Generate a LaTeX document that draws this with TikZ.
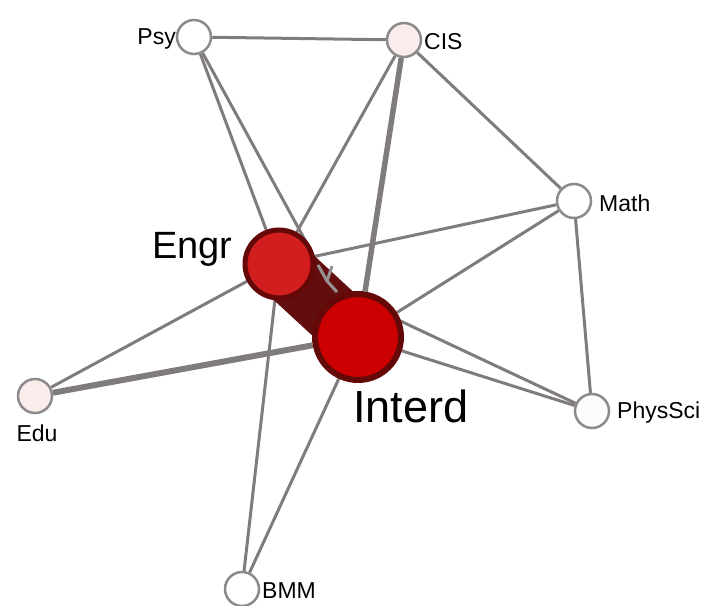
\documentclass[tikz,border=0pt]{standalone}
\usepackage{fontspec}
\setmainfont{Liberation Sans}
\usetikzlibrary{backgrounds}
\definecolor{edgegray}{RGB}{128,124,124}
\definecolor{rimgray}{RGB}{140,138,138}
\definecolor{paleblush}{RGB}{251,236,236}
\definecolor{offwhite}{RGB}{253,251,251}
\definecolor{engrred}{RGB}{210,30,30}
\definecolor{interdred}{RGB}{204,0,0}
\definecolor{darkrim}{RGB}{100,8,8}
\definecolor{bandred}{RGB}{98,14,14}
\definecolor{tipgray}{RGB}{150,146,146}
\begin{document}
\begin{tikzpicture}[x=1pt,y=-1pt,
  small/.style={circle,draw=rimgray,line width=2.5pt,minimum size=34pt,inner sep=0pt},
  big/.style={circle,draw=darkrim,inner sep=0pt},
  edge/.style={draw=edgegray,line width=3pt},
  heavy/.style={draw=edgegray,line width=5.5pt},
  tag/.style={inner sep=0pt,font=\fontsize{23}{27}\selectfont}]
\useasboundingbox (0,0) rectangle (704,605);
% nodes
\node[small,fill=white] (psy) at (194,37) {};
\node[small,fill=paleblush] (cis) at (404,40) {};
\node[small,fill=white] (math) at (574,201) {};
\node[small,fill=offwhite] (physsci) at (592,411) {};
\node[small,fill=paleblush] (edu) at (35,396) {};
\node[small,fill=white] (bmm) at (242,589) {};
\node[big,fill=engrred,line width=5pt,minimum size=68pt] (engr) at (279,264) {};
\node[big,fill=interdred,line width=6pt,minimum size=86pt] (interd) at (358,337) {};
% labels
\node[tag,anchor=east] (psylabel) at (176,39) {Psy};
\node[tag,anchor=west] (cislabel) at (424,42) {CIS};
\node[tag,anchor=west] (mathlabel) at (599,203) {Math};
\node[tag,anchor=west] (physscilabel) at (617,413) {PhysSci};
\node[tag,anchor=north] (edulabel) at (37,425) {Edu};
\node[tag,anchor=west] (bmmlabel) at (262,591) {BMM};
\node[inner sep=0pt,anchor=base west,font=\fontsize{38}{44}\selectfont] (engrlabel) at (152,258) {Engr};
\node[inner sep=0pt,anchor=base west,font=\fontsize{45}{52}\selectfont] (interdlabel) at (353,422) {Interd};
% edges
\begin{scope}[on background layer]
\draw[edge] (psy) -- (cis);
\draw[edge] (psy) -- (engr);
\draw[edge] (psy) -- (interd);
\draw[edge] (cis) -- (engr);
\draw[heavy] (cis) -- (interd);
\draw[edge] (cis) -- (math);
\draw[edge] (math) -- (engr);
\draw[edge] (math) -- (interd);
\draw[edge] (math) -- (physsci);
\draw[edge] (physsci) -- (engr);
\draw[edge] (physsci) -- (interd);
\draw[edge] (edu) -- (engr);
\draw[draw=edgegray,line width=6pt] (edu) -- (interd);
\draw[edge] (bmm) -- (engr);
\draw[edge] (bmm) -- (interd);
% engr to interd
\draw[draw=bandred,line width=60pt] (engr.center) -- (interd.center);
\draw[draw=tipgray,line width=3pt] (318,265) -- (327,281) -- (337,292) (332,266) -- (327,281);
\end{scope}
\end{tikzpicture}
\end{document}
